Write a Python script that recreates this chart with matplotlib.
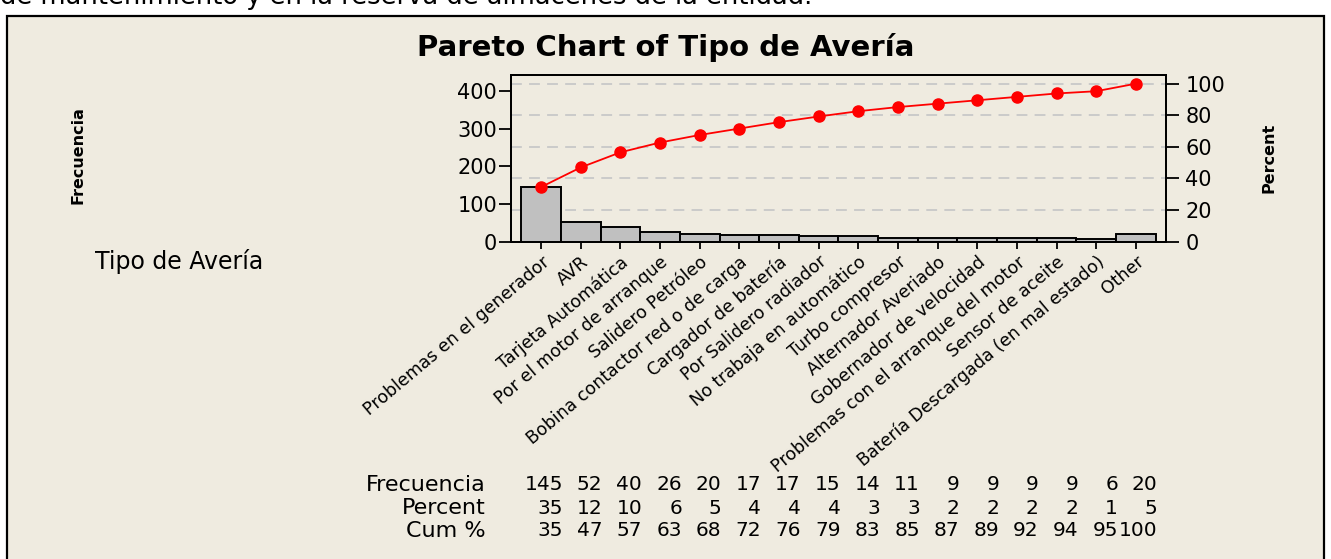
""" Pareto chart - Tipo de Avería """
import numpy as np
import matplotlib
matplotlib.use("Agg")
from matplotlib import pyplot as plt
from matplotlib.patches import Rectangle
from matplotlib.transforms import blended_transform_factory

# datos
categorias = ["Problemas en el generador", "AVR", "Tarjeta Automática",
              "Por el motor de arranque", "Salidero Petróleo",
              "Bobina contactor red o de carga", "Cargador de batería",
              "Por Salidero radiador", "No trabaja en automático",
              "Turbo compresor", "Alternador Averiado", "Gobernador de velocidad",
              "Problemas con el arranque del motor", "Sensor de aceite",
              "Batería Descargada (en mal estado)", "Other"]
frecuencia = [145, 52, 40, 26, 20, 17, 17, 15, 14, 11, 9, 9, 9, 9, 6, 20]
percent = [35, 12, 10, 6, 5, 4, 4, 4, 3, 3, 2, 2, 2, 2, 1, 5]
cum_pct = [35, 47, 57, 63, 68, 72, 76, 79, 83, 85, 87, 89, 92, 94, 95, 100]

total = sum(frecuencia)
acumulado = np.cumsum(frecuencia)
x = np.arange(len(categorias))

W, H = 1331, 559
fig = plt.figure(figsize=(W / 100, H / 100), dpi=100, facecolor="white")
beige = "#efebe0"

# marco del gráfico
fig.patches.append(Rectangle((7 / W, -0.05), 1317 / W, 1 - 16 / H + 0.05,
                             transform=fig.transFigure, facecolor=beige,
                             edgecolor="black", linewidth=1.6, zorder=0))
# texto del documento cortado arriba
fig.text(0, 1 - 4 / H, "de mantenimiento y en la reserva de almacenes de la entidad.",
         fontsize=18.5, va="baseline", ha="left")

ax = fig.add_axes([511 / W, 1 - 241.7 / H, 655 / W, 166.7 / H])
ymax = 442
ax.set_ylim(0, ymax)
ax.set_xlim(-0.76, len(categorias) - 0.24)

ax2 = ax.twinx()
ax2.set_ylim(0, ymax / total * 100)
for p in [20, 40, 60, 80, 100]:
    ax2.axhline(p, color="#c8c8c8", linestyle=(0, (6, 4)), linewidth=1.3, zorder=0)

ax.bar(x, frecuencia, width=1.0, color="#c0c0c0", edgecolor="black",
       linewidth=1.4, zorder=2)
ax.plot(x, acumulado, color="red", linewidth=1.3, marker="o",
        markersize=8, zorder=3, clip_on=False)
ax.set_zorder(2)
ax.patch.set_visible(False)
ax2.set_zorder(1)
ax2.patch.set_facecolor("white")

ax.set_yticks([0, 100, 200, 300, 400])
ax2.set_yticks([0, 20, 40, 60, 80, 100])
ax.set_xticks(x)
ax.set_xticklabels(categorias, rotation=40, ha="right", va="top",
                   rotation_mode="anchor", fontsize=12.5)
ax.tick_params(axis="y", labelsize=15, length=9, width=1.3, pad=1)
ax.tick_params(axis="x", length=5, width=1.3, pad=3)
ax2.tick_params(axis="y", labelsize=15, length=9, width=1.3, pad=5)
for a in (ax, ax2):
    for s in a.spines.values():
        s.set_linewidth(1.4)

fig.text(0.5, 1 - 47 / H, "Pareto Chart of Tipo de Avería", fontsize=21,
         fontweight="bold", ha="center", va="center")
fig.text(78 / W, 1 - 155 / H, "Frecuencia", rotation=90, fontsize=11.5,
         fontweight="bold", ha="center", va="center")
fig.text(1269 / W, 1 - 158 / H, "Percent", rotation=90, fontsize=11.5,
         fontweight="bold", ha="center", va="center")
fig.text(95 / W, 1 - 262 / H, "Tipo de Avería", fontsize=17,
         ha="left", va="center")

# tabla inferior
tr = blended_transform_factory(ax.transData, fig.transFigure)
filas = [("Frecuencia", frecuencia), ("Percent", percent), ("Cum %", cum_pct)]
for k, (nombre, vals) in enumerate(filas):
    yy = 1 - (485 + 23 * k) / H
    fig.text(486 / W, yy, nombre, fontsize=16, ha="right", va="center")
    for i, v in enumerate(vals):
        ax.text(i + 0.55, yy, str(v), transform=tr, fontsize=14.5,
                ha="right", va="center", clip_on=False)

fig.savefig("out.png", dpi=100, facecolor=fig.get_facecolor())
